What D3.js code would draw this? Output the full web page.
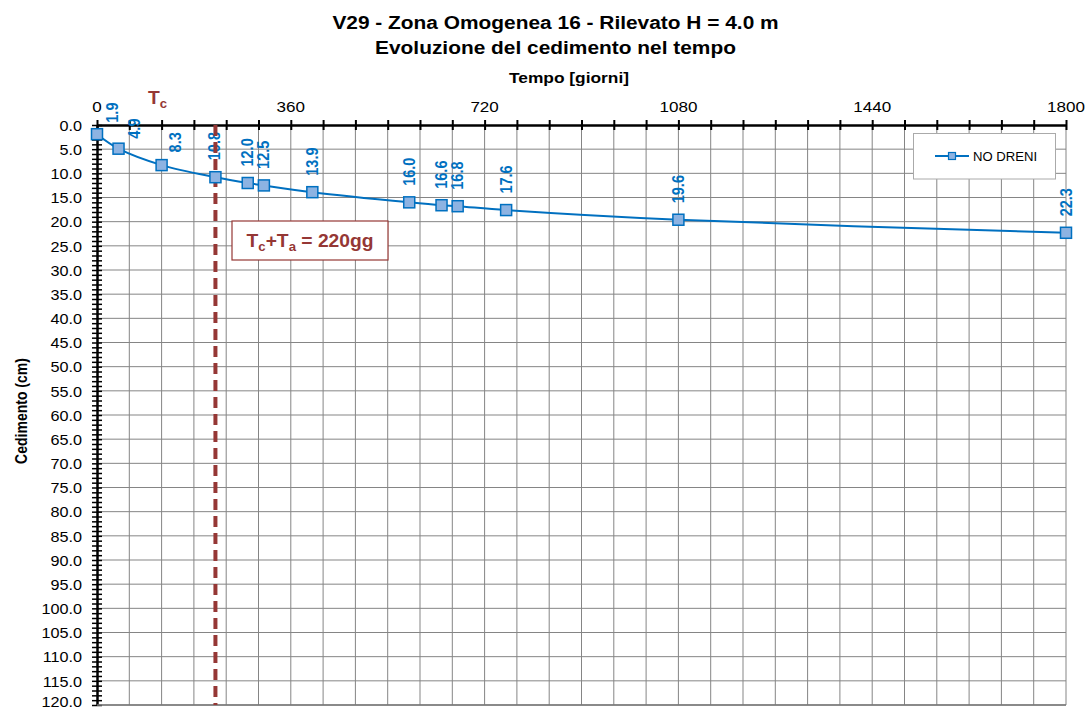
<!DOCTYPE html>
<html><head><meta charset="utf-8">
<script src="https://cdn.jsdelivr.net/npm/d3@7"></script>
<style>body{margin:0;background:#fff}svg{display:block;font-family:"Liberation Sans",Arial,sans-serif}</style>
</head><body><svg id="c" width="1092" height="711"></svg>
<script>
const days = [0, 40, 120, 220, 280, 310, 400, 580, 640, 670, 760, 1080, 1800];
const settlement = [1.9, 4.9, 8.3, 10.8, 12.0, 12.5, 13.9, 16.0, 16.6, 16.8, 17.6, 19.6, 22.3];
const xTickLabels = [0, 360, 720, 1080, 1440, 1800];
const yTickLabels = d3.range(0, 121, 5);
const seriesName = "NO DRENI";
const tcDay = 220;
const titleLines = ["V29 - Zona Omogenea 16 - Rilevato H = 4.0 m", "Evoluzione del cedimento nel tempo"];

const svg = d3.select("#c");
const L = 97, R = 1066, T = 125, B = 705;
const SX = 1.12; // horizontal glyph stretch seen in the reference
const x = d3.scaleLinear().domain([0, 1800]).range([L, R]);
const y = d3.scaleLinear().domain([0, 120]).range([T, B]);
const blue = "#0070C0", red = "#953735";

// grid
svg.append("g").selectAll("line").data(d3.range(60, 1801, 60)).join("line")
  .attr("x1", d => x(d)).attr("x2", d => x(d)).attr("y1", T).attr("y2", B)
  .attr("stroke", "#858585").attr("stroke-width", 1);
svg.append("g").selectAll("line").data(yTickLabels.slice(1)).join("line")
  .attr("x1", L).attr("x2", R).attr("y1", d => y(d)).attr("y2", d => y(d))
  .attr("stroke", "#858585").attr("stroke-width", 1);

// top axis
const xAxis = d3.axisTop(x).tickValues(d3.range(0, 1801, 60)).tickSize(0).tickFormat("");
const gx = svg.append("g").attr("transform", `translate(0,${T})`).call(xAxis);
gx.select(".domain").attr("stroke", "#000").attr("stroke-width", 2.5);
gx.selectAll(".tick line").remove();
gx.selectAll(".tick").append("line").attr("y1", -5).attr("y2", 5).attr("stroke", "#000").attr("stroke-width", 2);
svg.append("g").selectAll("text").data(xTickLabels).join("text")
  .attr("transform", d => `translate(${x(d)},111.5) scale(1.1,1)`).attr("text-anchor", "middle")
  .attr("font-size", 15.5).text(d => d);

// left axis
const yAxis = d3.axisLeft(y).tickValues(d3.range(0, 121, 1)).tickSize(0).tickFormat("");
const gy = svg.append("g").attr("transform", `translate(${L},0)`).call(yAxis);
gy.select(".domain").attr("stroke", "#000").attr("stroke-width", 2.5);
gy.selectAll(".tick line").remove();
gy.selectAll(".tick").append("line").attr("x1", -5).attr("x2", 5).attr("stroke", "#000").attr("stroke-width", 1.5);
svg.append("g").selectAll("text").data(yTickLabels).join("text")
  .attr("transform", d => `translate(82,${Math.min(y(d) + 5.8, 707)}) scale(1.08,1)`).attr("text-anchor", "end")
  .attr("font-size", 15).text(d => d.toFixed(1));

// bottom border
svg.append("line").attr("x1", L).attr("x2", R).attr("y1", B).attr("y2", B).attr("stroke", "#777").attr("stroke-width", 1.5);

// titles
svg.append("g").selectAll("text").data(titleLines).join("text")
  .attr("transform", (d, i) => `translate(555.5,${28.5 + i * 25}) scale(1.13,1)`).attr("text-anchor", "middle")
  .attr("font-size", 18.5).attr("font-weight", "bold").text(d => d);
svg.append("text").attr("transform", `translate(569,82.5) scale(${SX},1)`).attr("text-anchor", "middle")
  .attr("font-size", 15.5).attr("font-weight", "bold").text("Tempo [giorni]");
svg.append("text").attr("transform", `translate(26.5,411) scale(${SX},1) rotate(-90)`).attr("text-anchor", "middle")
  .attr("font-size", 14).attr("font-weight", "bold").text("Cedimento (cm)");

// series data
const pts = days.map((d, i) => [d, settlement[i]]);
// label nudges (first labels were shifted right in the reference to avoid overlap)
const nudge = (i) => [[15, 11.5], [16, 10], [14, 12.7], [-1, 17]][i] || [0, 16.5];
svg.append("g").selectAll("text").data(pts).join("text")
  .attr("transform", (d, i) => `translate(${x(d[0]) + nudge(i)[0] + 5.5},${y(d[1]) - nudge(i)[1]}) scale(${SX},1) rotate(-90)`)
  .attr("fill", blue).attr("font-size", 14.5).attr("font-weight", "bold").text(d => d[1].toFixed(1));

// Tc line (drawn over the labels, under the markers)
svg.append("line").attr("x1", x(tcDay)).attr("x2", x(tcDay)).attr("y1", T).attr("y2", B)
  .attr("stroke", red).attr("stroke-width", 4).attr("stroke-dasharray", "11,6");
const tc = svg.append("text").attr("transform", "translate(148,104) scale(1.1,1)").attr("fill", red).attr("font-size", 17.5).attr("font-weight", "bold");
tc.append("tspan").text("T");
tc.append("tspan").attr("dy", 4).attr("font-size", 12).text("c");

// annotation box
svg.append("rect").attr("x", 232).attr("y", 221).attr("width", 156).attr("height", 39)
  .attr("fill", "#fff").attr("stroke", red).attr("stroke-width", 1.2);
const ann = svg.append("text").attr("transform", "translate(310,247) scale(1.1,1)").attr("text-anchor", "middle").attr("fill", red)
  .attr("font-size", 17.5).attr("font-weight", "bold");
ann.append("tspan").text("T");
ann.append("tspan").attr("dy", 4).attr("font-size", 12).text("c");
ann.append("tspan").attr("dy", -4).text("+T");
ann.append("tspan").attr("dy", 4).attr("font-size", 12).text("a");
ann.append("tspan").attr("dy", -4).text(" = " + tcDay + "gg");

svg.append("path").datum(pts)
  .attr("d", d3.line().x(d => x(d[0])).y(d => y(d[1])).curve(d3.curveCatmullRom.alpha(0.5)))
  .attr("fill", "none").attr("stroke", blue).attr("stroke-width", 2);
svg.append("g").selectAll("rect").data(pts).join("rect")
  .attr("x", d => x(d[0]) - 5.5).attr("y", d => y(d[1]) - 5.5).attr("width", 11).attr("height", 11)
  .attr("fill", "#8DB3E2").attr("stroke", blue).attr("stroke-width", 1.5);

// legend
const lg = svg.append("g");
lg.append("rect").attr("x", 913.5).attr("y", 133.5).attr("width", 142).attr("height", 45.5)
  .attr("fill", "#fff").attr("stroke", "#aaa").attr("stroke-width", 1);
lg.append("line").attr("x1", 935).attr("x2", 969).attr("y1", 156).attr("y2", 156).attr("stroke", blue).attr("stroke-width", 2);
lg.append("rect").attr("x", 948.5).attr("y", 152.5).attr("width", 7).attr("height", 7).attr("fill", "#8DB3E2").attr("stroke", blue).attr("stroke-width", 1.2);
lg.append("text").attr("transform", "translate(973,161) scale(1.05,1)").attr("font-size", 12.5).text(seriesName);
</script></body></html>
